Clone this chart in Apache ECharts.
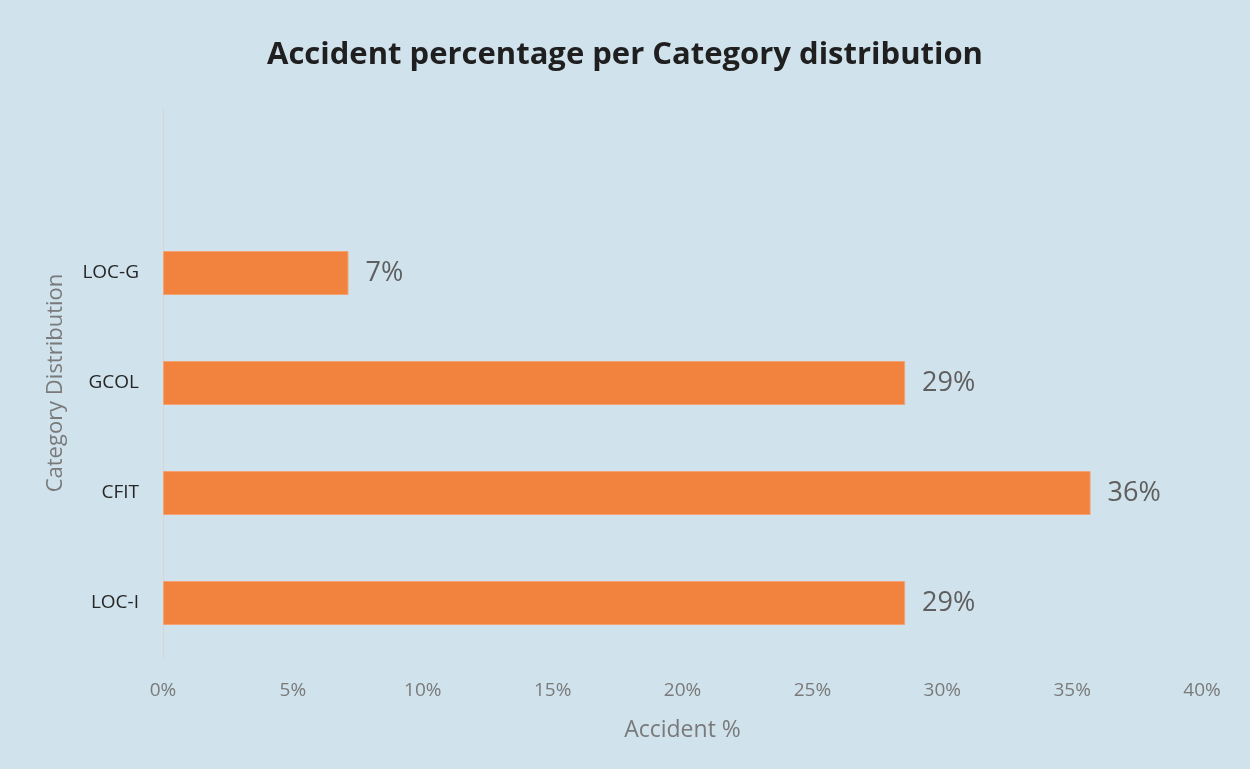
<!DOCTYPE html>
<html>
<head>
<meta charset="utf-8">
<script src="https://cdn.jsdelivr.net/npm/echarts@6/dist/echarts.min.js"></script>
<style>
  html, body { margin: 0; padding: 0; background: #D0E2EC; }
  #chart { width: 1250px; height: 769px; }
</style>
</head>
<body>
<div id="chart"></div>
<script>
// Categories listed bottom to top; the top slot is left empty on purpose
const categories = ['LOC-I', 'CFIT', 'GCOL', 'LOC-G', ''];
// Share of accidents per category, in percent
const accidentPct = [28.57, 35.71, 28.57, 7.14, null];
// Value axis settings (percent)
const axisMin = 0;
const axisMax = 40;
const axisStep = 5;

const chart = echarts.init(document.getElementById('chart'), null, { renderer: 'canvas' });

chart.setOption({
  backgroundColor: '#D0E2EC',
  animation: false,
  title: {
    text: 'Accident percentage per Category distribution',
    left: 'center',
    top: 35,
    textStyle: {
      fontFamily: 'Open Sans',
      fontWeight: 'bold',
      fontSize: 31,
      color: '#1f1f1f'
    }
  },
  grid: {
    left: 163,
    right: 48,
    top: 108,
    bottom: 111,
    containLabel: false
  },
  xAxis: {
    type: 'value',
    min: axisMin,
    max: axisMax,
    interval: axisStep,
    name: 'Accident %',
    nameLocation: 'middle',
    nameGap: 61,
    nameTextStyle: { fontFamily: 'Open Sans', fontSize: 23, color: '#7a7a7a' },
    axisLine: { show: false },
    axisTick: { show: false },
    splitLine: { show: false },
    axisLabel: {
      formatter: '{value}%',
      margin: 23,
      fontFamily: 'Open Sans',
      fontSize: 19,
      color: '#7a7a7a'
    }
  },
  yAxis: {
    type: 'category',
    data: categories,
    name: 'Category Distribution',
    nameLocation: 'middle',
    nameGap: 96,
    nameRotate: 90,
    nameTextStyle: { fontFamily: 'Open Sans', fontSize: 22, color: '#7a7a7a' },
    axisLine: { show: true, lineStyle: { color: '#d6d6d6', width: 1 } },
    axisTick: { show: false },
    splitLine: { show: false },
    axisLabel: {
      margin: 24,
      fontFamily: 'Open Sans',
      fontSize: 19,
      color: '#262626'
    }
  },
  series: [{
    type: 'bar',
    data: accidentPct,
    barWidth: 44,
    itemStyle: {
      color: '#F2833F',
      borderColor: '#F5A272',
      borderWidth: 1
    },
    label: {
      show: true,
      position: 'right',
      distance: 17,
      formatter: p => Math.round(p.value) + '%',
      fontFamily: 'Open Sans',
      fontSize: 27,
      color: '#5f5f5f'
    }
  }]
});
</script>
</body>
</html>
